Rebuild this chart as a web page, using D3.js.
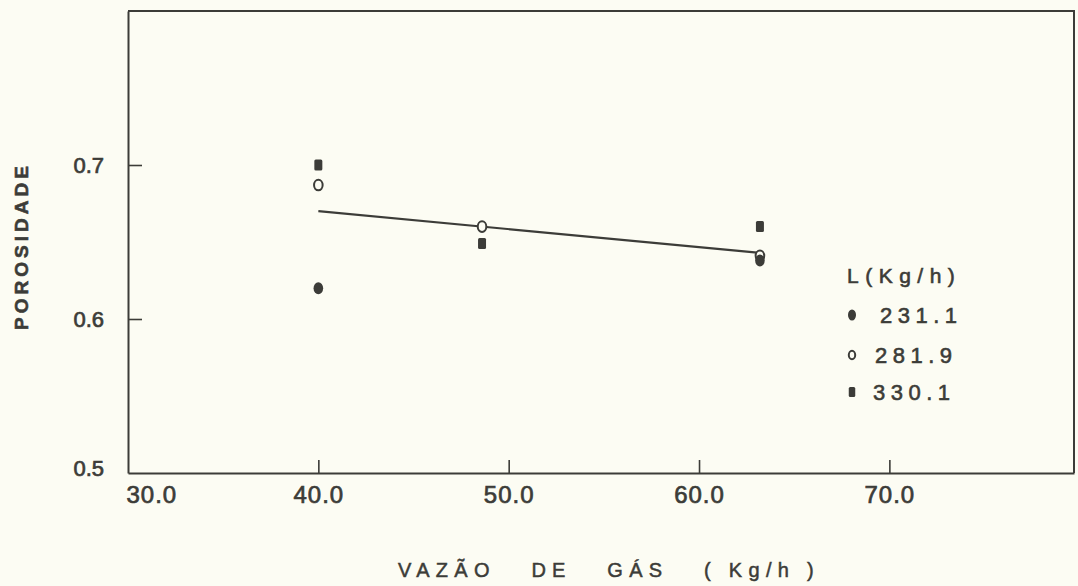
<!DOCTYPE html>
<html>
<head>
<meta charset="utf-8">
<script src="https://cdn.jsdelivr.net/npm/d3@7/dist/d3.min.js"></script>
<style>
  html, body { margin: 0; padding: 0; background: #fcfcf3; }
  svg { display: block; }
  text { fill: #3c3c38; font-family: "Liberation Sans", Arial, sans-serif; }
</style>
</head>
<body>
<svg id="chart" width="1078" height="586"></svg>
<script>
// Gas flow rate (kg/h) at which porosity was measured
const gasFlow = [40.0, 48.6, 63.2];

// Porosity for each liquid flow rate L (kg/h)
const series = ["231.1", "281.9", "330.1"];
const porosity231 = [0.620, null, 0.638];
const porosity282 = [0.687, 0.660, 0.641];
const porosity330 = [0.700, 0.649, 0.660];

// Fitted trend line end points
const trendX = [40.0, 63.2];
const trendY = [0.670, 0.643];

const xTicks = [30, 40, 50, 60, 70];
const yTicks = [0.5, 0.6, 0.7];

const ink = "#3c3c38";
const paper = "#fcfcf3";
const svg = d3.select("#chart");

const x = d3.scaleLinear().domain([30, 79.7]).range([128, 1074]);
const y = d3.scaleLinear().domain([0.5, 0.8]).range([473, 11]);

// Lettering is drawn with a slightly heavier pen
function pen(sel, w) {
  return sel.attr("stroke", ink).attr("stroke-width", w).attr("fill", ink);
}

// Frame: top and right edges
svg.append("path")
  .attr("d", `M${x(30)},${y(0.8)}H${x(79.7)}V${y(0.5)}`)
  .attr("fill", "none").attr("stroke", ink).attr("stroke-width", 2);

// Bottom axis
const gx = svg.append("g").attr("transform", `translate(0,${y(0.5)})`)
  .call(d3.axisBottom(x).tickValues(xTicks).tickFormat(d3.format(".1f"))
    .tickSizeInner(-13).tickSizeOuter(0).tickPadding(13));
gx.select(".domain").attr("stroke", ink).attr("stroke-width", 2);
gx.selectAll(".tick line").attr("stroke", ink).attr("stroke-width", 1.6);
pen(gx.selectAll(".tick text"), 0.7)
  .attr("font-size", 24).attr("letter-spacing", 1)
  .attr("font-family", "Liberation Sans, Arial, sans-serif");
gx.selectAll(".tick").filter(d => d === 30).select("text")
  .attr("text-anchor", "start").attr("dx", -2);
gx.selectAll(".tick").filter(d => d === 30).select("line").remove();

// Left axis
const gy = svg.append("g").attr("transform", `translate(${x(30)},0)`)
  .call(d3.axisLeft(y).tickValues(yTicks).tickFormat(d3.format(".1f"))
    .tickSizeInner(-14).tickSizeOuter(0).tickPadding(24));
gy.select(".domain").attr("stroke", ink).attr("stroke-width", 2);
gy.selectAll(".tick line").attr("stroke", ink).attr("stroke-width", 1.6);
pen(gy.selectAll(".tick text"), 0.7)
  .attr("font-size", 22).attr("letter-spacing", 0)
  .attr("font-family", "Liberation Sans, Arial, sans-serif");
gy.selectAll(".tick").filter(d => d === 0.5).select("line").remove();
gy.selectAll(".tick").filter(d => d === 0.5).select("text").attr("dy", "0.1em");

// Trend line
svg.append("path")
  .datum(d3.zip(trendX, trendY))
  .attr("d", d3.line().x(d => x(d[0])).y(d => y(d[1])))
  .attr("fill", "none").attr("stroke", ink).attr("stroke-width", 2.2);

// Marker drawing helpers
function filledDot(g, cx, cy, rx, ry) {
  g.append("ellipse").attr("cx", cx).attr("cy", cy).attr("rx", rx).attr("ry", ry)
    .attr("fill", ink);
}
function openDot(g, cx, cy, rx, ry) {
  g.append("ellipse").attr("cx", cx).attr("cy", cy).attr("rx", rx).attr("ry", ry)
    .attr("fill", paper).attr("stroke", ink).attr("stroke-width", 2);
}
function block(g, cx, cy, w, h) {
  g.append("rect").attr("x", cx - w / 2).attr("y", cy - h / 2)
    .attr("width", w).attr("height", h).attr("rx", 1.5).attr("fill", ink);
}

const marks = svg.append("g");
gasFlow.forEach((g, i) => {
  if (porosity282[i] != null) openDot(marks, x(g), y(porosity282[i]), 4.3, 5.3);
});
gasFlow.forEach((g, i) => {
  if (porosity231[i] != null) filledDot(marks, x(g), y(porosity231[i]), 4.8, 6);
});
gasFlow.forEach((g, i) => {
  if (porosity330[i] != null) block(marks, x(g), y(porosity330[i]), 8, 11);
});

// Legend
const leg = svg.append("g");
pen(leg.append("text"), 0.6).attr("x", 847).attr("y", 283)
  .attr("font-size", 21).attr("letter-spacing", 6.5).text("L(Kg/h)");
const legRows = [
  { y: 323, kind: "filled", label: series[0], tx: 880 },
  { y: 363, kind: "open", label: series[1], tx: 875 },
  { y: 400, kind: "block", label: series[2], tx: 873 }
];
legRows.forEach(r => {
  const cy = r.y - 8;
  if (r.kind === "filled") filledDot(leg, 852, cy, 4, 5.5);
  else if (r.kind === "open") openDot(leg, 852, cy, 3.2, 4.2);
  else block(leg, 852, cy, 6.5, 10);
  pen(leg.append("text"), 0.6).attr("x", r.tx).attr("y", r.y)
    .attr("font-size", 22).attr("letter-spacing", 5.5).text(r.label);
});

// Axis titles
pen(svg.append("text"), 0.5).attr("x", 398).attr("y", 577)
  .attr("font-size", 20).attr("letter-spacing", 6.3)
  .style("white-space", "pre")
  .text("VAZÃO   DE   GÁS   ( Kg/h )");

pen(svg.append("text"), 0.6)
  .attr("transform", "translate(28,246) rotate(-90)")
  .attr("text-anchor", "middle")
  .attr("font-size", 19).attr("font-weight", "bold").attr("letter-spacing", 4)
  .text("POROSIDADE");
</script>
</body>
</html>
